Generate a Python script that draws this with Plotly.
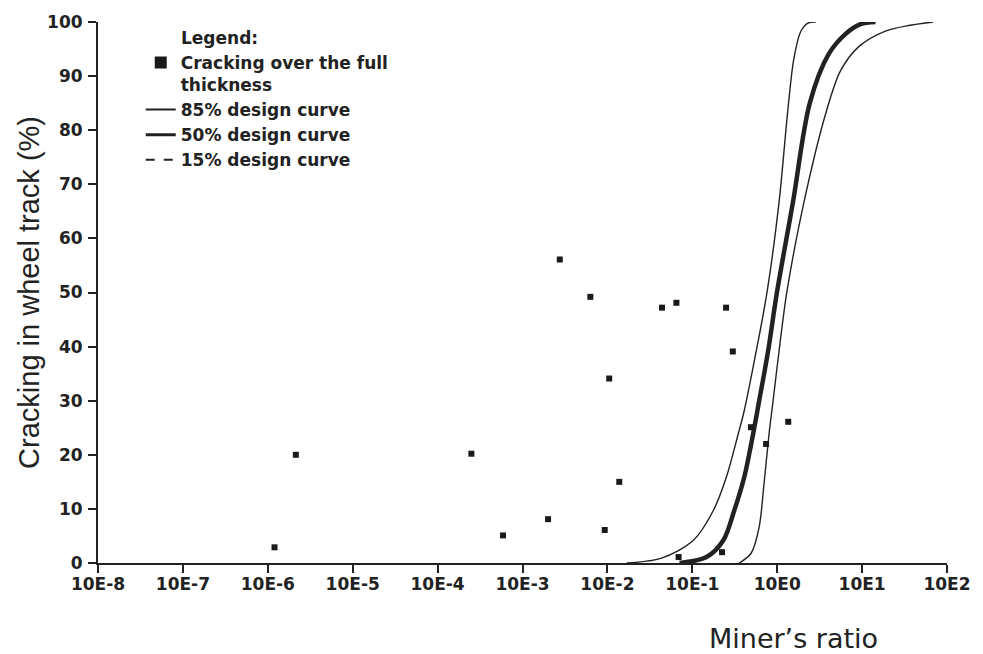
import plotly.graph_objects as go

# ---- data ----
crack_x = [1.2e-6, 2.14e-6, 2.5e-4, 5.9e-4, 2.0e-3, 2.75e-3, 6.3e-3, 9.3e-3, 1.05e-2, 1.38e-2,
           4.4e-2, 6.5e-2, 6.9e-2, 0.224, 0.25, 0.30, 0.49, 0.74, 1.35]
crack_y = [2.9, 20.0, 20.2, 5.1, 8.1, 56.1, 49.2, 6.1, 34.1, 15.0,
           47.2, 48.1, 1.1, 2.0, 47.2, 39.1, 25.1, 22.0, 26.1]

c85_x = [0.0169, 0.0435, 0.103, 0.177, 0.251, 0.348, 0.408, 0.565, 0.760, 1.05, 1.34, 1.57, 1.90, 2.30, 2.85]
c85_y = [0, 0.9, 4.2, 9.7, 15.8, 23.9, 28.1, 39.1, 50.1, 66.6, 84.0, 93.2, 98.3, 99.8, 100]

c50_x = [0.0708, 0.147, 0.232, 0.312, 0.408, 0.521, 0.612, 0.780, 0.995, 1.53, 2.42, 4.05, 6.40, 9.57, 14.4]
c50_y = [0, 1.1, 4.2, 9.7, 15.8, 23.9, 29.9, 39.1, 50.1, 66.6, 85.0, 94.1, 97.8, 99.6, 100]

c15_x = [0.357, 0.493, 0.612, 0.700, 0.802, 0.893, 1.05, 1.30, 2.06, 3.73, 5.58, 9.08, 18.8, 36.9, 68.5]
c15_y = [0, 1.8, 6.6, 14.7, 23.9, 29.9, 39.1, 50.1, 66.6, 83.1, 91.0, 95.4, 98.3, 99.4, 100]

x_tickvals = [1e-8, 1e-7, 1e-6, 1e-5, 1e-4, 1e-3, 1e-2, 1e-1, 1e0, 1e1, 1e2]
x_ticktext = ["10E-8", "10E-7", "10E-6", "10E-5", "10E-4", "10E-3", "10E-2", "10E-1", "10E0", "10E1", "10E2"]
y_tickvals = [0, 10, 20, 30, 40, 50, 60, 70, 80, 90, 100]

INK = "#222222"

fig = go.Figure()

# curves
fig.add_trace(go.Scatter(x=c85_x, y=c85_y, mode="lines",
                         line=dict(color=INK, width=1.4, shape="spline", smoothing=0.9),
                         showlegend=False, hoverinfo="skip"))
fig.add_trace(go.Scatter(x=c15_x, y=c15_y, mode="lines",
                         line=dict(color=INK, width=1.4, shape="spline", smoothing=0.9),
                         showlegend=False, hoverinfo="skip"))
fig.add_trace(go.Scatter(x=c50_x, y=c50_y, mode="lines",
                         line=dict(color=INK, width=4.5, shape="spline", smoothing=0.9),
                         showlegend=False, hoverinfo="skip"))
# data points
fig.add_trace(go.Scatter(x=crack_x, y=crack_y, mode="markers",
                         marker=dict(symbol="square", size=6, color="#1a1a1a"),
                         showlegend=False))

# legend entries
fig.add_trace(go.Scatter(x=[None], y=[None], mode="markers", name="Cracking over the full<br>thickness",
                         marker=dict(symbol="square", size=12, color="#1a1a1a")))
fig.add_trace(go.Scatter(x=[None], y=[None], mode="lines", name="85% design curve",
                         line=dict(color=INK, width=2)))
fig.add_trace(go.Scatter(x=[None], y=[None], mode="lines", name="50% design curve",
                         line=dict(color=INK, width=3)))
fig.add_trace(go.Scatter(x=[None], y=[None], mode="lines", name="15% design curve",
                         line=dict(color=INK, width=2, dash="dash")))

tick_font = dict(family="DejaVu Sans", size=17, color=INK, weight="bold")

fig.update_layout(
    width=983, height=654,
    margin=dict(l=98, r=31, t=18, b=91),
    paper_bgcolor="white", plot_bgcolor="white",
    showlegend=True,
    legend=dict(x=(141 - 98) / 854, y=1 - (41 - 18) / 545, xanchor="left", yanchor="top",
                bgcolor="rgba(0,0,0,0)", valign="top",
                font=dict(family="DejaVu Sans", size=17, color=INK, weight="bold"),
                tracegroupgap=0),
    xaxis=dict(type="log", range=[-8, 2], tickvals=x_tickvals, ticktext=x_ticktext,
               showgrid=False, zeroline=False, showline=True, linecolor=INK, linewidth=2,
               ticks="outside", ticklen=8, tickwidth=2, tickcolor=INK, tickfont=tick_font,
               ticklabelstandoff=-3),
    yaxis=dict(range=[0, 100], tickvals=y_tickvals,
               showgrid=False, zeroline=False, showline=True, linecolor=INK, linewidth=2,
               ticks="outside", ticklen=8, tickwidth=2, tickcolor=INK, tickfont=tick_font,
               ticklabelstandoff=2),
    annotations=[
        dict(text="Legend:", xref="paper", yref="paper", x=(179 - 98) / 854, y=1 - (34 - 18) / 545,
             xanchor="left", yanchor="middle", showarrow=False,
             font=dict(family="DejaVu Sans", size=17, color=INK, weight="bold")),
        dict(text="Cracking in wheel track (%)", xref="paper", yref="paper",
             x=(28 - 98) / 854, y=0.5, xanchor="center", yanchor="middle", textangle=-90,
             showarrow=False, font=dict(family="Liberation Sans", size=29, color=INK)),
        dict(text="Miner’s ratio", xref="paper", yref="paper",
             x=(798 - 98) / 854, y=-(639 - 563) / 545, xanchor="center", yanchor="middle",
             showarrow=False, font=dict(family="DejaVu Sans", size=27, color=INK)),
    ],
)

fig.write_html("out.html")
